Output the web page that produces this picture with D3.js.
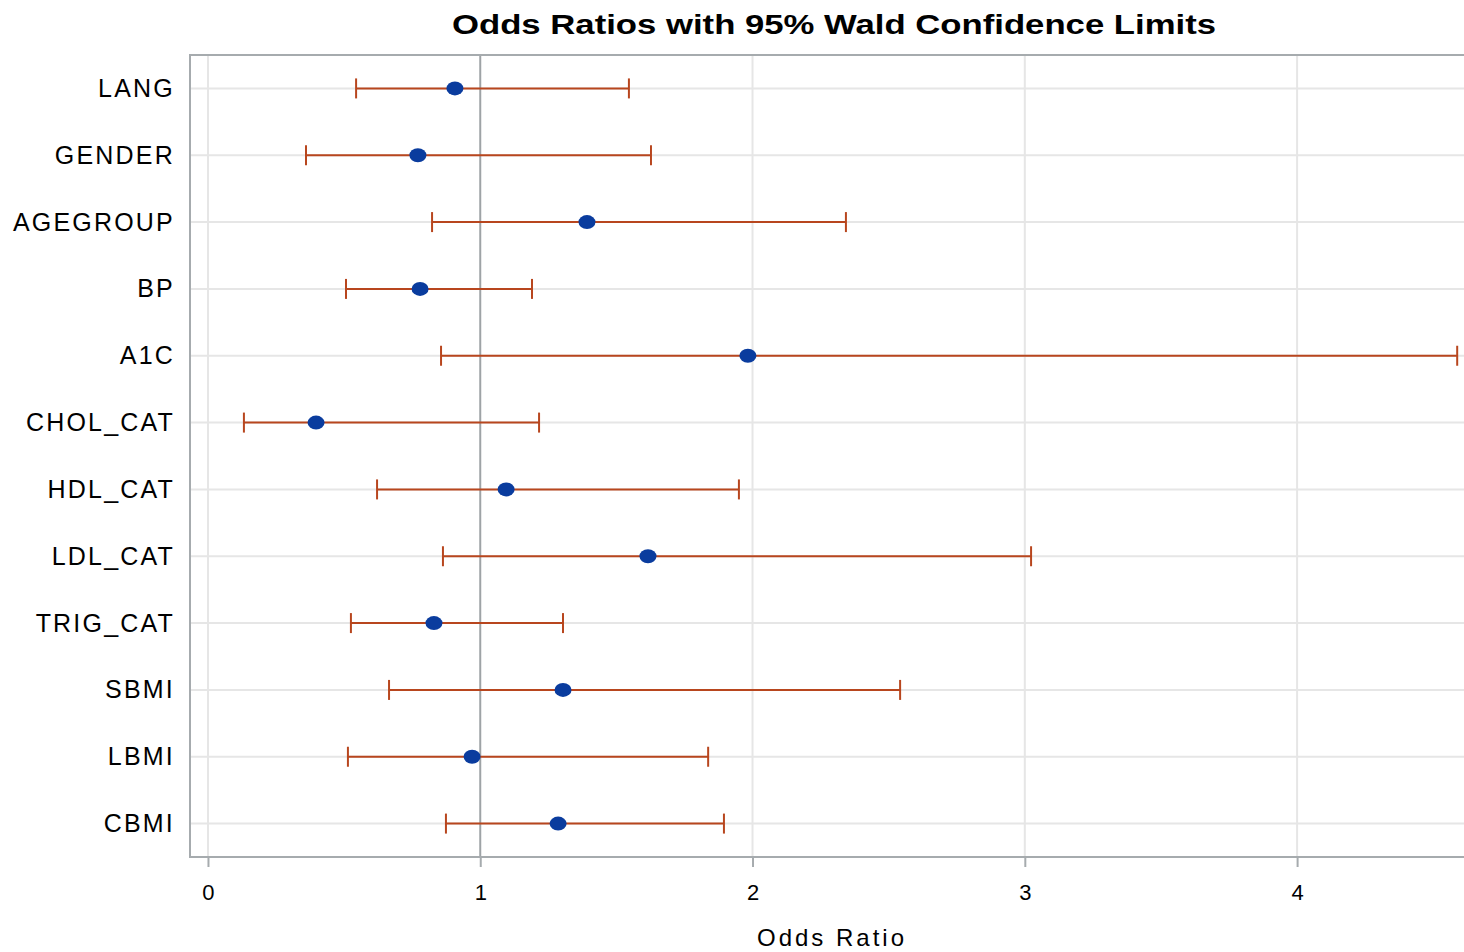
<!DOCTYPE html>
<html><head><meta charset="utf-8">
<script src="https://cdn.jsdelivr.net/npm/d3@7"></script>
<style>
html,body{margin:0;padding:0;background:#fff;}
svg{display:block;}
text{font-family:"Liberation Sans",Arial,sans-serif;fill:#000;}
</style></head>
<body><svg id="c" width="1464" height="952"></svg>
<script>
const categories = ["LANG","GENDER","AGEGROUP","BP","A1C","CHOL_CAT","HDL_CAT","LDL_CAT","TRIG_CAT","SBMI","LBMI","CBMI"];
const oddsRatio  = [0.907,0.771,1.392,0.779,1.983,0.397,1.095,1.616,0.830,1.304,0.970,1.286];
const lowerCL    = [0.544,0.360,0.823,0.507,0.856,0.132,0.621,0.863,0.525,0.665,0.514,0.874];
const upperCL    = [1.546,1.627,2.343,1.190,4.588,1.216,1.950,3.023,1.304,2.542,1.837,1.895];
const xTicks = [0,1,2,3,4];
const xDomain = [-0.066, 4.613];

const svg = d3.select("#c");
const L = 190, R = 1464, T = 55, B = 857;
const x = d3.scaleLinear().domain(xDomain).range([L, R]);
const y = d3.scalePoint().domain(categories).range([T, B]).padding(0.5);

const grid = "#e6e6e6", frame = "#a6abae", barC = "#B8461E", dotC = "#0A3C9E";

// horizontal gridlines
svg.append("g").selectAll("line").data(categories).join("line")
  .attr("x1", L).attr("x2", R).attr("y1", d => y(d)).attr("y2", d => y(d))
  .attr("stroke", grid).attr("stroke-width", 2);
// vertical gridlines
svg.append("g").selectAll("line").data(xTicks.filter(t => t !== 1)).join("line")
  .attr("x1", d => x(d)).attr("x2", d => x(d)).attr("y1", T).attr("y2", B)
  .attr("stroke", grid).attr("stroke-width", 2);
// reference line at 1
svg.append("line").attr("x1", x(1)).attr("x2", x(1)).attr("y1", T).attr("y2", B)
  .attr("stroke", "#9ea3a6").attr("stroke-width", 2);

// frame (right edge outside window)
svg.append("path").attr("d", `M${R+20},${T}H${L}V${B}H${R+20}`)
  .attr("fill", "none").attr("stroke", frame).attr("stroke-width", 2);

// x axis
const xAxis = d3.axisBottom(x).tickValues(xTicks).tickSize(10).tickPadding(17).tickFormat(d3.format("d"));
const gx = svg.append("g").attr("transform", `translate(0,${B})`).call(xAxis);
gx.select(".domain").remove();
gx.selectAll(".tick line").attr("stroke", frame).attr("stroke-width", 2);
gx.selectAll(".tick text").attr("font-size", 22).attr("fill", "#000")
  .attr("font-family", "'Liberation Sans', Arial, sans-serif");

// y axis labels
const yAxis = d3.axisLeft(y).tickSize(0).tickPadding(15);
const gy = svg.append("g").attr("transform", `translate(${L},0)`).call(yAxis);
gy.select(".domain").remove();
gy.selectAll(".tick text").attr("font-size", 25).attr("fill", "#000")
  .attr("font-family", "'Liberation Sans', Arial, sans-serif")
  .attr("letter-spacing", "2.2px");

// error bars
const idx = d3.range(categories.length);
const eb = svg.append("g");
eb.selectAll("line.bar").data(idx).join("line").attr("class","bar")
  .attr("x1", i => x(lowerCL[i])).attr("x2", i => x(upperCL[i]))
  .attr("y1", i => y(categories[i])).attr("y2", i => y(categories[i]))
  .attr("stroke", barC).attr("stroke-width", 2);
eb.selectAll("line.capL").data(idx).join("line").attr("class","capL")
  .attr("x1", i => x(lowerCL[i])).attr("x2", i => x(lowerCL[i]))
  .attr("y1", i => y(categories[i]) - 10).attr("y2", i => y(categories[i]) + 10)
  .attr("stroke", barC).attr("stroke-width", 2);
eb.selectAll("line.capU").data(idx).join("line").attr("class","capU")
  .attr("x1", i => x(upperCL[i])).attr("x2", i => x(upperCL[i]))
  .attr("y1", i => y(categories[i]) - 10).attr("y2", i => y(categories[i]) + 10)
  .attr("stroke", barC).attr("stroke-width", 2);

// markers
svg.append("g").selectAll("ellipse").data(idx).join("ellipse")
  .attr("cx", i => x(oddsRatio[i])).attr("cy", i => y(categories[i]))
  .attr("rx", 8.5).attr("ry", 7).attr("fill", dotC);

// title
svg.append("text").attr("x", 834).attr("y", 34).attr("text-anchor", "middle")
  .attr("font-size", 28).attr("font-weight", "bold")
  .attr("textLength", 764).attr("lengthAdjust", "spacingAndGlyphs")
  .text("Odds Ratios with 95% Wald Confidence Limits");

// x axis label
svg.append("text").attr("x", 832).attr("y", 946).attr("text-anchor", "middle")
  .attr("font-size", 24).attr("letter-spacing", "3px").text("Odds Ratio");
</script></body></html>
